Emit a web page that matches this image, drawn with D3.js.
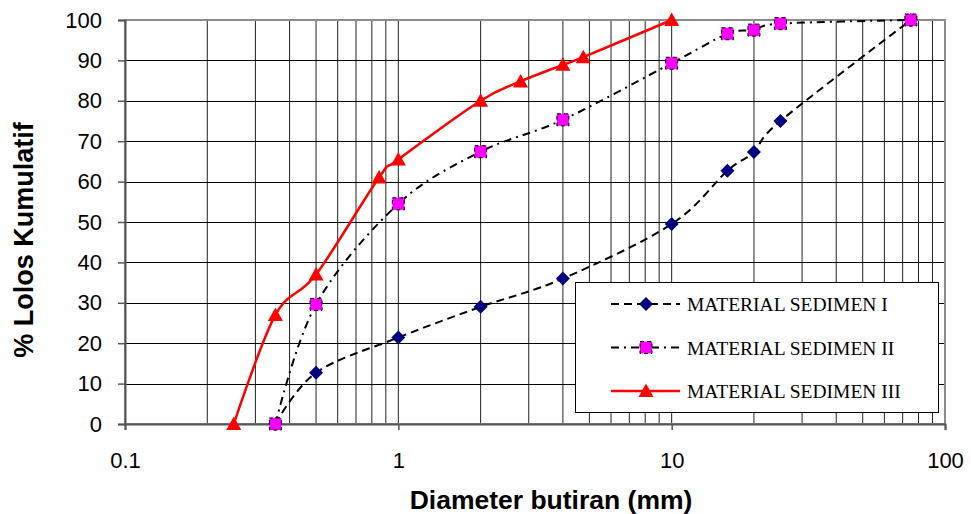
<!DOCTYPE html>
<html>
<head>
<meta charset="utf-8">
<script src="https://cdn.jsdelivr.net/npm/d3@7"></script>
<style>
  body { margin: 0; background: #fff; }
  svg { display: block; }
</style>
</head>
<body>
<svg class="svg"></svg>
<script>
// sieve sizes (mm) and cumulative passing (%)
const sizesI = [0.355, 0.5, 1, 2, 4, 10, 16, 20, 25, 75];
const passI = [0, 12.7, 21.4, 29, 36, 49.5, 62.7, 67.3, 75, 100];

const sizesII = [0.355, 0.5, 1, 2, 4, 10, 16, 20, 25, 75];
const passII = [0, 29.6, 54.5, 67.4, 75.3, 89.3, 96.6, 97.5, 99.1, 100];

const sizesIII = [0.25, 0.355, 0.5, 0.85, 1, 2, 2.8, 4, 4.75, 10];
const passIII = [0, 27, 37, 61, 65.5, 80, 84.8, 88.9, 90.8, 100];

const seriesNames = ['MATERIAL SEDIMEN I', 'MATERIAL SEDIMEN II', 'MATERIAL SEDIMEN III'];
const xTicks = [0.1, 1, 10, 100];
const yTicks = [0, 10, 20, 30, 40, 50, 60, 70, 80, 90, 100];

const width = 971;
const height = 514;
const plot = { left: 125, right: 945, top: 20, bottom: 424 };

const svg = d3.select('.svg').attr('width', width).attr('height', height);

const x = d3.scaleLog().domain([0.1, 100]).range([plot.left, plot.right]);
const y = d3.scaleLinear().domain([0, 100]).range([plot.bottom, plot.top]);

// minor log grid values 0.1 .. 100
const gridX = [];
[0.1, 1, 10].forEach(d => {
  for (let i = 1; i <= 9; i++) gridX.push(+(d * i).toPrecision(3));
});

const grid = svg.append('g');
grid.selectAll('line.v')
  .data(gridX.filter(d => d > 0.1))
  .join('line')
  .attr('class', 'v')
  .attr('x1', d => x(d)).attr('x2', d => x(d))
  .attr('y1', plot.top).attr('y2', plot.bottom)
  .attr('stroke', '#222')
  .attr('stroke-width', 1);

grid.selectAll('line.h')
  .data(yTicks.filter(d => d > 0 && d < 100))
  .join('line')
  .attr('class', 'h')
  .attr('x1', plot.left).attr('x2', plot.right)
  .attr('y1', d => Math.round(y(d)) + 0.5).attr('y2', d => Math.round(y(d)) + 0.5)
  .attr('stroke', '#000')
  .attr('stroke-width', 1);

// frame
svg.append('rect')
  .attr('x', plot.left).attr('y', plot.top)
  .attr('width', plot.right - plot.left).attr('height', plot.bottom - plot.top)
  .attr('fill', 'none')
  .attr('stroke', '#8c8c8c')
  .attr('stroke-width', 2);

// axes
const xAxis = d3.axisBottom(x)
  .tickValues(xTicks)
  .tickFormat(d => String(d))
  .tickSize(6)
  .tickPadding(22);

const gx = svg.append('g')
  .attr('transform', `translate(0,${plot.bottom})`)
  .call(xAxis);
gx.select('.domain').attr('stroke', '#555').attr('stroke-width', 2);
gx.selectAll('.tick line').attr('stroke', '#555').attr('stroke-width', 1.5);
gx.selectAll('.tick text')
  .attr('font-family', 'Liberation Sans, Arial, sans-serif')
  .attr('font-size', 22)
  .attr('fill', '#000');

const yAxis = d3.axisLeft(y)
  .tickValues(yTicks)
  .tickSize(7)
  .tickPadding(16);

const gy = svg.append('g')
  .attr('transform', `translate(${plot.left},0)`)
  .call(yAxis);
gy.select('.domain').attr('stroke', '#555').attr('stroke-width', 2);
gy.selectAll('.tick line').attr('stroke', '#555').attr('stroke-width', 1.5);
gy.selectAll('.tick text')
  .attr('font-family', 'Liberation Sans, Arial, sans-serif')
  .attr('font-size', 22)
  .attr('fill', '#000');

// axis titles
svg.append('text')
  .attr('x', 551)
  .attr('y', 509)
  .attr('text-anchor', 'middle')
  .attr('font-family', 'Liberation Sans, Arial, sans-serif')
  .attr('font-weight', 'bold')
  .attr('font-size', 26.5)
  .text('Diameter butiran (mm)');

svg.append('text')
  .attr('transform', 'translate(33,240) rotate(-90)')
  .attr('text-anchor', 'middle')
  .attr('font-family', 'Liberation Sans, Arial, sans-serif')
  .attr('font-weight', 'bold')
  .attr('font-size', 27)
  .text('% Lolos Kumulatif');

// series
const diamond = 'M0,-7L7,0L0,7L-7,0Z';
const square = 'M-6,-6L6,-6L6,6L-6,6Z';
const triangle = 'M0,-7.5L7.5,6L-7.5,6Z';

const series = [
  { name: seriesNames[0], xs: sizesI, ys: passI, stroke: '#000', width: 2, dash: '8,5',
    marker: diamond, fill: '#000080', mStroke: 'none', mDash: null },
  { name: seriesNames[1], xs: sizesII, ys: passII, stroke: '#000', width: 2, dash: '8,5,2,5',
    marker: square, fill: '#ff00ff', mStroke: '#000', mDash: '4,3' },
  { name: seriesNames[2], xs: sizesIII, ys: passIII, stroke: '#ff0000', width: 2.5, dash: null,
    marker: triangle, fill: '#ff0000', mStroke: 'none', mDash: null }
];

const line = d3.line()
  .x(d => x(d[0]))
  .y(d => y(d[1]))
  .curve(d3.curveCardinal.tension(0));

const sg = svg.append('g')
  .selectAll('g')
  .data(series)
  .join('g');

sg.append('path')
  .attr('d', s => line(d3.zip(s.xs, s.ys)))
  .attr('fill', 'none')
  .attr('stroke', s => s.stroke)
  .attr('stroke-width', s => s.width)
  .attr('stroke-dasharray', s => s.dash);

sg.each(function(s) {
  d3.select(this)
    .selectAll('path.mk')
    .data(d3.zip(s.xs, s.ys))
    .join('path')
    .attr('class', 'mk')
    .attr('d', s.marker)
    .attr('transform', d => `translate(${x(d[0])},${y(d[1])})`)
    .attr('fill', s.fill)
    .attr('stroke', s.mStroke)
    .attr('stroke-width', 1)
    .attr('stroke-dasharray', s.mDash);
});

// legend
const legend = svg.append('g');
legend.append('rect')
  .attr('x', 575.5).attr('y', 282.5)
  .attr('width', 363).attr('height', 130)
  .attr('fill', '#fff')
  .attr('stroke', '#000')
  .attr('stroke-width', 1);

const li = legend.selectAll('g')
  .data(series)
  .join('g')
  .attr('transform', (d, i) => `translate(0,${304 + i * 43.5})`);

li.append('line')
  .attr('x1', 611).attr('x2', 680)
  .attr('y1', 0).attr('y2', 0)
  .attr('stroke', d => d.stroke)
  .attr('stroke-width', d => d.width)
  .attr('stroke-dasharray', d => d.dash);

li.append('path')
  .attr('d', d => d.marker)
  .attr('transform', 'translate(646,0)')
  .attr('fill', d => d.fill)
  .attr('stroke', d => d.mStroke)
  .attr('stroke-width', 1)
  .attr('stroke-dasharray', d => d.mDash);

li.append('text')
  .attr('x', 687)
  .attr('y', 7)
  .attr('font-family', 'Liberation Serif, Times New Roman, serif')
  .attr('font-size', 19.5)
  .attr('fill', '#000')
  .text(d => d.name);
</script>
</body>
</html>
